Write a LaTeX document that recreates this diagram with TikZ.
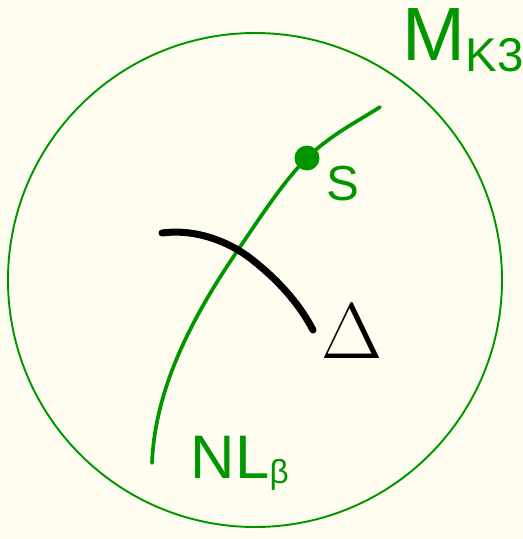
\documentclass[tikz,border=0pt]{standalone}
\usepackage{fontspec}
\setmainfont{Liberation Sans}
\newfontfamily\deltafont{Latin Modern Roman}
\definecolor{bg}{RGB}{255,253,240}
\definecolor{pen}{RGB}{0,150,0}
\begin{document}
\begin{tikzpicture}[x=0.02cm,y=-0.02cm,
  greentext/.style={text=pen,inner sep=0pt,outer sep=0pt},
  blacktext/.style={text=black,inner sep=0pt,outer sep=0pt}]
\fill[bg] (0,0) rectangle (523,539);
\useasboundingbox (0,0) rectangle (523,539);
\node[draw=pen,line width=1.1pt,circle,minimum size=494*0.02cm,inner sep=0pt] (disk) at (255,280) {};
\node[circle,fill=pen,minimum size=25*0.02cm,inner sep=0pt] (s) at (307,158) {};
\coordinate (nlbot) at (152,463);
\coordinate (nlmid) at (238,250);
\coordinate (nltop) at (380,107);
\draw[pen,line width=2.1pt,line cap=round] (nlbot) .. controls (155,390) and (190,320) .. (nlmid) .. controls (265,210) and (285,180) .. (s.center) .. controls (330,135) and (360,120) .. (nltop);
\coordinate (dstart) at (162,233);
\coordinate (dmid) at (255,262);
\coordinate (dend) at (313,330);
\draw[black,line width=4pt,line cap=round] (dstart) .. controls (200,228) and (235,245) .. (dmid) .. controls (280,282) and (300,305) .. (dend);
\node[greentext,anchor=base west] (mk3) at (403,60) {\fontsize{43}{43}\selectfont M\fontsize{27}{27}\selectfont\raisebox{-6.5pt}{K3}};
\node[greentext,anchor=base west] (slabel) at (327,200) {\fontsize{28}{28}\selectfont S};
\node[greentext,anchor=base west] (nl) at (191,478) {\fontsize{35}{35}\selectfont NL\fontsize{19}{19}\selectfont\raisebox{-3pt}{β}};
\node[blacktext,anchor=base west] (delta) at (322,358) {\deltafont\fontsize{45}{45}\selectfont Δ};
\end{tikzpicture}
\end{document}
